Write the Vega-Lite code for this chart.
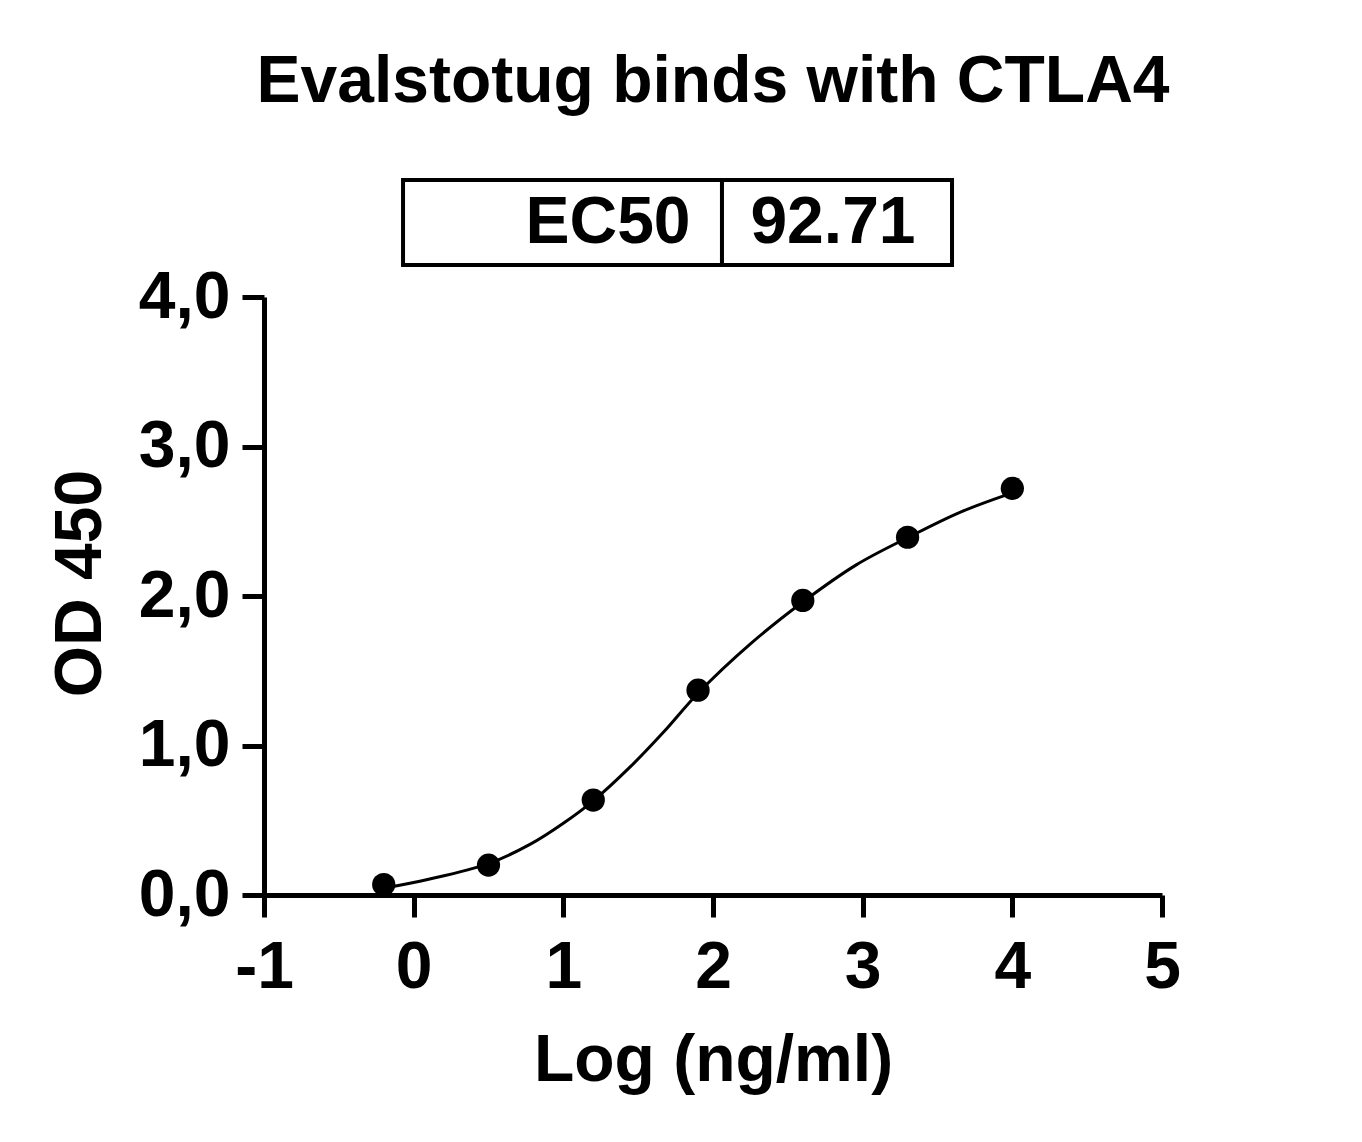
{
  "$schema": "https://vega.github.io/schema/vega-lite/v6.json",
  "autosize": {"type": "none"},
  "padding": {"left": 264, "top": 297, "right": 200, "bottom": 247},
  "width": 898,
  "height": 598,
  "background": "white",
  "config": {
    "view": {"stroke": null},
    "font": "Liberation Sans",
    "axis": {
      "grid": false,
      "domainColor": "black",
      "domainWidth": 5,
      "tickColor": "black",
      "tickWidth": 5,
      "tickSize": 22,
      "labelFont": "Liberation Sans",
      "labelFontSize": 66,
      "labelFontWeight": "bold",
      "labelColor": "black",
      "labelOverlap": false,
      "labelFlush": false,
      "labelBound": false,
      "titleFont": "Liberation Sans",
      "titleFontSize": 66,
      "titleFontWeight": "bold",
      "titleColor": "black"
    }
  },
  "title": {
    "text": "Evalstotug binds with CTLA4",
    "font": "Liberation Sans",
    "fontSize": 66,
    "fontWeight": "bold",
    "color": "black",
    "anchor": "middle",
    "offset": 62
  },
  "datasets": {
    "points": [
      {"logc": -0.2, "od": 0.07},
      {"logc": 0.5, "od": 0.2},
      {"logc": 1.2, "od": 0.635},
      {"logc": 1.9, "od": 1.37},
      {"logc": 2.6, "od": 1.97},
      {"logc": 3.3, "od": 2.393},
      {"logc": 4.0, "od": 2.72}
    ],
    "curve": [
      {"logc": -0.2, "od": 0.045},
      {"logc": 0.1, "od": 0.105},
      {"logc": 0.5, "od": 0.21},
      {"logc": 0.78, "od": 0.34},
      {"logc": 1.0, "od": 0.48},
      {"logc": 1.2, "od": 0.63},
      {"logc": 1.45, "od": 0.86},
      {"logc": 1.67, "od": 1.09},
      {"logc": 1.9, "od": 1.35},
      {"logc": 2.25, "od": 1.68},
      {"logc": 2.6, "od": 1.96},
      {"logc": 2.96, "od": 2.21},
      {"logc": 3.3, "od": 2.39},
      {"logc": 3.65, "od": 2.56},
      {"logc": 4.0, "od": 2.69}
    ],
    "table": [
      {"x0": -0.071, "x1": 2.06, "y0": 4.214, "y1": 4.783, "label": "EC50", "tx": 1.85, "align": "right"},
      {"x0": 2.06, "x1": 3.597, "y0": 4.214, "y1": 4.783, "label": "92.71", "tx": 2.25, "align": "left"}
    ]
  },
  "layer": [
    {
      "data": {"name": "curve"},
      "mark": {"type": "line", "color": "black", "strokeWidth": 3, "interpolate": "catmull-rom"},
      "encoding": {
        "x": {
          "field": "logc", "type": "quantitative",
          "scale": {"domain": [-1, 5], "nice": false, "zero": false},
          "axis": {"values": [-1, 0, 1, 2, 3, 4, 5], "title": "Log (ng/ml)", "labelPadding": 18, "titlePadding": 28,
                   "labelExpr": "datum.value < 0 ? '-' + abs(datum.value) : '' + datum.value"}
        },
        "y": {
          "field": "od", "type": "quantitative",
          "scale": {"domain": [0, 4], "nice": false},
          "axis": {"values": [0, 1, 2, 3, 4], "title": "OD 450", "labelPadding": 12, "titlePadding": 24, "titleY": 286,
                   "labelExpr": "replace(format(datum.value, '.1f'), '.', ',')"}
        }
      }
    },
    {
      "data": {"name": "points"},
      "mark": {"type": "circle", "color": "black", "opacity": 1, "size": 540},
      "encoding": {
        "x": {"field": "logc", "type": "quantitative"},
        "y": {"field": "od", "type": "quantitative"}
      }
    },
    {
      "data": {"name": "table"},
      "mark": {"type": "rect", "fill": "white", "stroke": "black", "strokeWidth": 4},
      "encoding": {
        "x": {"field": "x0", "type": "quantitative"},
        "x2": {"field": "x1"},
        "y": {"field": "y0", "type": "quantitative"},
        "y2": {"field": "y1"}
      }
    },
    {
      "data": {"name": "table"},
      "transform": [{"filter": "datum.align == 'right'"}],
      "mark": {"type": "text", "align": "right", "baseline": "alphabetic", "fontSize": 66, "fontWeight": "bold", "font": "Liberation Sans", "color": "black"},
      "encoding": {
        "x": {"field": "tx", "type": "quantitative"},
        "y": {"datum": 4.361, "type": "quantitative"},
        "text": {"field": "label"}
      }
    },
    {
      "data": {"name": "table"},
      "transform": [{"filter": "datum.align == 'left'"}],
      "mark": {"type": "text", "align": "left", "baseline": "alphabetic", "fontSize": 66, "fontWeight": "bold", "font": "Liberation Sans", "color": "black"},
      "encoding": {
        "x": {"field": "tx", "type": "quantitative"},
        "y": {"datum": 4.361, "type": "quantitative"},
        "text": {"field": "label"}
      }
    }
  ]
}
